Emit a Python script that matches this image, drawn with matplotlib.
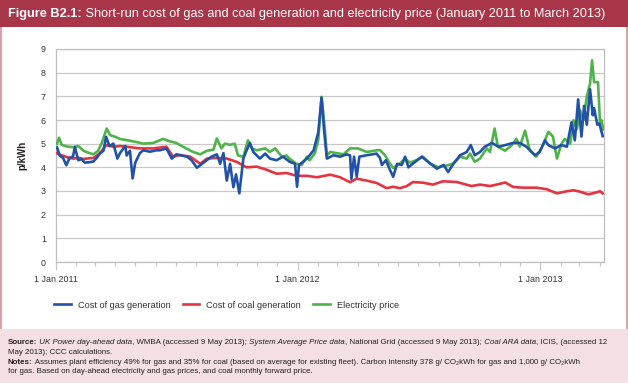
import numpy as np
import pandas as pd
import matplotlib
matplotlib.use('Agg')
import matplotlib.pyplot as plt
import matplotlib.dates as mdates
from matplotlib.patches import Rectangle
from matplotlib.lines import Line2D
from matplotlib.ticker import FuncFormatter

# data: days since 1 Jan 2011, p/kWh
gas_days = [2, 6, 11, 16, 21, 26, 29, 34, 39, 44, 52, 57, 62, 67, 72, 76, 81, 87, 93, 97,
            102, 105, 107, 112, 116, 120, 127, 132, 142, 152, 157, 167, 175, 182, 190, 198,
            205, 213, 223, 235, 243, 248, 253, 258, 263, 268, 272, 277, 283, 288, 293, 298,
            308, 316, 323, 333, 343, 353, 361, 364, 367, 379, 389, 396, 401, 405, 409, 419,
            429, 439, 444, 446, 450, 454, 458, 469, 484, 489, 492, 498, 504, 509, 515, 522,
            527, 532, 539, 552, 562, 575, 585, 592, 600, 610, 620, 626, 632, 640, 647, 658,
            668, 678, 690, 700, 710, 723, 730, 738, 743, 753, 763, 771, 778, 783, 788, 793,
            797, 801, 806, 810, 812, 817, 820, 825]
gas_vals = [4.84, 4.5, 4.4, 4.09, 4.4, 4.45, 4.86, 4.3, 4.35, 4.2, 4.22, 4.25, 4.4, 4.6, 4.7,
            5.29, 4.9, 5.0, 4.37, 4.6, 4.8, 4.9, 4.5, 4.7, 3.53, 4.2, 4.6, 4.72, 4.66, 4.72,
            4.72, 4.8, 4.37, 4.55, 4.5, 4.45, 4.3, 3.98, 4.2, 4.45, 4.55, 4.15, 4.6, 3.44,
            4.15, 3.16, 3.7, 2.9, 4.37, 4.72, 5.03, 4.65, 4.37, 4.58, 4.37, 4.3, 4.45, 4.23,
            4.15, 3.18, 4.1, 4.37, 4.72, 5.47, 6.95, 5.5, 4.37, 4.51, 4.45, 4.55, 4.5, 3.5,
            4.45, 3.6, 4.45, 4.51, 4.58, 4.4, 4.1, 4.3, 3.9, 3.6, 4.15, 4.1, 4.45, 4.0, 4.16,
            4.45, 4.23, 3.94, 4.1, 3.8, 4.16, 4.51, 4.65, 4.94, 4.51, 4.65, 4.87, 5.03, 4.87,
            4.94, 5.03, 5.03, 4.87, 4.51, 4.65, 5.14, 4.94, 4.8, 4.94, 4.87, 5.9, 5.14, 6.87,
            5.3, 6.6, 5.8, 7.3, 6.2, 6.5, 5.8, 5.85, 5.32]

coal_days = [2, 10, 20, 27, 35, 42, 47, 57, 67, 76, 87, 97, 107, 127, 147, 167, 177, 187, 203,
             218, 228, 243, 258, 273, 288, 303, 318, 333, 348, 364, 379, 394, 414, 429, 444,
             454, 469, 484, 499, 509, 519, 529, 539, 554, 569, 584, 605, 614, 627, 640, 655,
             665, 678, 690, 705, 725, 740, 756, 771, 781, 791, 803, 813, 821, 825]
coal_vals = [4.59, 4.5, 4.4, 4.37, 4.4, 4.35, 4.37, 4.4, 4.6, 4.94, 4.87, 4.9, 4.87, 4.8, 4.8,
             4.87, 4.45, 4.52, 4.45, 4.15, 4.37, 4.4, 4.37, 4.23, 4.0, 4.03, 3.9, 3.73, 3.76,
             3.64, 3.64, 3.58, 3.69, 3.58, 3.37, 3.52, 3.44, 3.34, 3.12, 3.18, 3.12, 3.2, 3.38,
             3.35, 3.27, 3.41, 3.38, 3.31, 3.21, 3.27, 3.21, 3.27, 3.36, 3.17, 3.14, 3.14, 3.08,
             2.9, 2.99, 3.03, 2.97, 2.86, 2.92, 2.99, 2.9]

elec_days = [2, 5, 9, 17, 26, 34, 42, 49, 57, 64, 69, 77, 82, 89, 97, 107, 120, 132, 147, 162,
             172, 182, 192, 207, 218, 228, 238, 243, 250, 255, 263, 270, 275, 283, 290, 296,
             303, 316, 323, 331, 341, 348, 353, 363, 371, 379, 383, 391, 396, 401, 406, 409,
             414, 424, 434, 444, 456, 469, 484, 489, 497, 504, 509, 519, 527, 534, 544, 554,
             564, 577, 590, 600, 610, 620, 625, 632, 640, 650, 655, 662, 667, 678, 688, 695,
             700, 708, 715, 725, 735, 743, 750, 756, 763, 768, 776, 781, 786, 791, 796, 801,
             806, 809, 812, 818, 821, 823, 826]
elec_vals = [5.0, 5.25, 4.95, 4.88, 4.85, 4.9, 4.7, 4.62, 4.55, 4.7, 5.0, 5.64, 5.36, 5.3, 5.2,
             5.15, 5.08, 5.0, 5.03, 5.2, 5.1, 5.03, 4.87, 4.65, 4.55, 4.7, 4.75, 5.22, 4.8, 5.0,
             4.95, 5.0, 4.5, 4.45, 5.14, 4.8, 4.72, 4.8, 4.65, 4.8, 4.45, 4.5, 4.36, 4.15, 4.1,
             4.45, 4.3, 4.6, 5.15, 6.98, 5.6, 4.5, 4.65, 4.6, 4.55, 4.8, 4.8, 4.65, 4.72, 4.73,
             4.5, 4.16, 3.97, 4.16, 4.37, 4.2, 4.3, 4.45, 4.16, 4.01, 4.08, 4.16, 4.45, 4.37,
             4.58, 4.23, 4.37, 4.8, 4.65, 5.64, 4.87, 4.7, 4.94, 5.2, 4.87, 5.55, 4.72, 4.45,
             4.94, 5.5, 5.3, 4.37, 5.0, 5.2, 5.0, 5.99, 5.6, 6.4, 6.0, 6.98, 7.55, 8.52, 7.6,
             7.6, 5.85, 6.0, 5.6]

labels = ['Cost of gas generation', 'Cost of coal generation', 'Electricity price']
colors = ['#2152A8', '#E5333F', '#4DB548']

title_bold = 'Figure B2.1:'
title_rest = ' Short-run cost of gas and coal generation and electricity price (January 2011 to March 2013)'

source_lines = [
    [('Source:', 'b'), (' UK Power day-ahead data', 'i'), (', WMBA (accessed 9 May 2013);', 'n'),
     (' System Average Price data', 'i'), (', National Grid (accessed 9 May 2013);', 'n'),
     (' Coal ARA data', 'i'), (', ICIS, (accessed 12', 'n')],
    [('May 2013); CCC calculations.', 'n')],
    [('Notes:', 'b'), (' Assumes plant efficiency 49% for gas and 35% for coal (based on average for '
                       'existing fleet). Carbon intensity 378 g/ CO\u2082kWh for gas and 1,000 g/ CO\u2082kWh', 'n')],
    [('for gas. Based on day-ahead electricity and gas prices, and coal monthly forward price.', 'n')],
]

start = pd.Timestamp('2011-01-01')


def to_dates(days):
    return start + pd.to_timedelta(np.array(days), unit='D')


plt.rcParams['font.family'] = ['Liberation Sans', 'DejaVu Sans']

W, H = 628, 383
fig = plt.figure(figsize=(W / 100, H / 100), dpi=100)
fig.patch.set_facecolor('white')


def px_rect(x, y, w, h, color):
    fig.add_artist(Rectangle((x / W, 1 - (y + h) / H), w / W, h / H, transform=fig.transFigure,
                             facecolor=color, edgecolor='none', zorder=0))


px_rect(0, 0, W, 26.5, '#A93548')
px_rect(0, 26.5, 2, 302, '#D9A2AB')
px_rect(W - 2, 26.5, 2, 302, '#D9A2AB')
px_rect(0, 328.5, W, H - 328.5, '#F4E0E2')

renderer = fig.canvas.get_renderer()

# title
def fit_runs(y, runs, x0, target, size0, color):
    # draw once to measure, rescale to target width
    def draw(size):
        x = x0
        arts = []
        for txt, st in runs:
            t = fig.text(x / W, 1 - y / H, txt, fontsize=size, color=color, va='center', ha='left',
                         fontweight='bold' if st == 'b' else 'normal',
                         fontstyle='italic' if st == 'i' else 'normal')
            x += t.get_window_extent(renderer).width
            arts.append(t)
        return arts, x - x0
    arts, w = draw(size0)
    if target is None:
        return size0
    for a in arts:
        a.remove()
    size = size0 * target / w
    draw(size)
    return size


fit_runs(13.5, [(title_bold, 'b'), (title_rest, 'n')], 8, 599, 8.5, 'white')

sz = None
ys = [343, 352, 362, 371.5]
for i, (y, runs) in enumerate(zip(ys, source_lines)):
    if i == 0:
        sz = fit_runs(y, runs, 8, 597, 5.8, '#231F20')
    else:
        fit_runs(y, runs, 8, None, sz, '#231F20')

# chart
ax = fig.add_axes([55.7 / W, 1 - 262 / H, (604 - 55.7) / W, (262 - 49) / H])
grid = '#C8C8C8'
lc, = ax.plot(to_dates(coal_days), coal_vals, color=colors[1], lw=1.9, zorder=3)
le, = ax.plot(to_dates(elec_days), elec_vals, color=colors[2], lw=1.9, zorder=4)
lg, = ax.plot(to_dates(gas_days), gas_vals, color=colors[0], lw=1.9, zorder=5)

ax.set_ylim(0, 9)
ax.set_yticks(range(10))
ax.set_xlim(start, start + pd.Timedelta(days=827))
ax.xaxis.set_major_locator(mdates.YearLocator())
ax.xaxis.set_minor_locator(mdates.MonthLocator())
ax.xaxis.set_major_formatter(FuncFormatter(
    lambda v, p: '{} {}'.format(mdates.num2date(v).day, mdates.num2date(v).strftime('%b %Y'))))
ax.tick_params(axis='x', which='major', length=6, width=0.9, color=grid, labelsize=6.4,
               labelcolor='#333333', pad=3)
ax.tick_params(axis='x', which='minor', length=3, width=0.9, color=grid)
ax.tick_params(axis='y', length=0, pad=7, labelsize=6.4, labelcolor='#333333')
ax.grid(axis='y', color=grid, lw=0.9)
ax.set_axisbelow(True)
for s in ax.spines.values():
    s.set_color('#BFBFBF')
    s.set_linewidth(0.9)

fig.text(22 / W, 1 - 155 / H, 'p/kWh', rotation=90, fontsize=7, fontweight='bold',
         color='#231F20', ha='center', va='center')

fig.legend(handles=[lg, lc, le], labels=labels, loc='center left',
           bbox_to_anchor=(54 / W, 1 - 305 / H), ncol=3, frameon=False, fontsize=6.6,
           handlelength=1.8, handletextpad=0.8, columnspacing=1.3, borderpad=0,
           borderaxespad=0, labelcolor='#333333')

fig.savefig('out.png', dpi=100)
